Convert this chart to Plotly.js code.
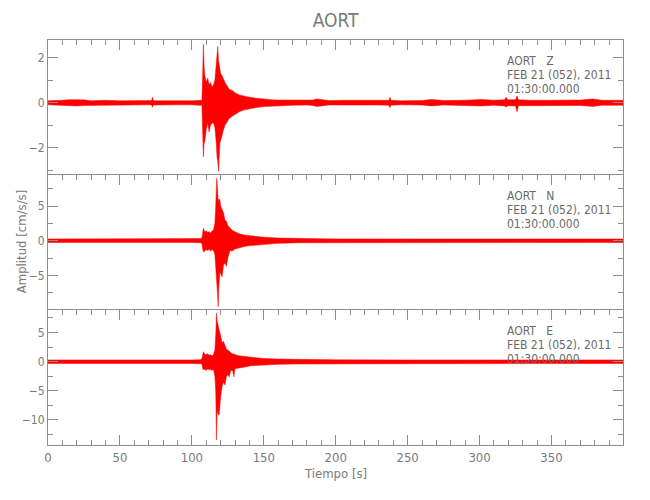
<!DOCTYPE html>
<html>
<head>
<meta charset="utf-8">
<script src="https://cdn.plot.ly/plotly-3.0.1.min.js"></script>
<style>
  html, body { margin: 0; padding: 0; background: #fff; }
  #chart { width: 650px; height: 500px; }
</style>
</head>
<body>
<div id="chart"></div>
<script>
// ---- Data (envelopes of the traces, cm/s/s) ----
const timeZ = [0, 5, 10, 15, 20, 25, 30, 40, 50, 60, 70, 72, 72.6, 73.2, 75, 80, 90, 100, 105, 107,
  107.5, 108, 108.5, 109, 110, 111, 112, 113, 114, 115, 116, 116.5, 117, 117.5, 118, 118.5, 119, 119.5, 120, 121,
  122, 123, 124, 125, 126, 128, 130, 133, 136, 140, 145, 150, 155, 160, 170, 180, 184, 187, 190, 195,
  210, 230, 237, 237.7, 238.4, 245, 260, 266.7, 275, 290, 301, 310, 317.5, 318.5, 319.5, 325, 326, 327, 335, 350,
  370, 378.7, 385, 399.7];
const upperZ = [0.09, 0.09, 0.11, 0.14, 0.15, 0.13, 0.09, 0.11, 0.09, 0.09, 0.09, 0.10, 0.25, 0.10, 0.09, 0.10, 0.09, 0.09, 0.11, 0.11,
  1.20, 2.60, 1.60, 1.20, 0.90, 1.10, 0.80, 0.90, 0.70, 0.80, 1.00, 1.50, 1.80, 2.10, 2.50, 1.90, 1.70, 1.40, 1.30, 1.20,
  1.00, 0.90, 0.80, 0.70, 0.60, 0.55, 0.45, 0.35, 0.30, 0.25, 0.20, 0.16, 0.14, 0.12, 0.11, 0.10, 0.12, 0.17, 0.15, 0.10,
  0.11, 0.10, 0.11, 0.25, 0.11, 0.09, 0.10, 0.15, 0.10, 0.11, 0.15, 0.11, 0.14, 0.25, 0.13, 0.14, 0.30, 0.13, 0.11, 0.11,
  0.12, 0.17, 0.11, 0.11];
const lowerZ = [-0.09, -0.09, -0.10, -0.13, -0.14, -0.12, -0.09, -0.10, -0.09, -0.09, -0.09, -0.10, -0.20, -0.10, -0.09, -0.10, -0.09, -0.09, -0.11, -0.11,
  -0.80, -2.40, -1.80, -1.70, -1.20, -0.90, -1.30, -1.00, -0.90, -0.90, -1.10, -1.40, -1.80, -2.40, -2.60, -3.05, -2.40, -1.80, -1.60, -1.40,
  -1.20, -1.00, -0.90, -0.80, -0.70, -0.60, -0.50, -0.40, -0.32, -0.27, -0.21, -0.17, -0.14, -0.13, -0.11, -0.10, -0.12, -0.16, -0.14, -0.10,
  -0.11, -0.10, -0.11, -0.22, -0.11, -0.09, -0.10, -0.14, -0.10, -0.11, -0.14, -0.11, -0.14, -0.20, -0.13, -0.14, -0.40, -0.13, -0.11, -0.11,
  -0.12, -0.16, -0.11, -0.11];

const timeN = [0, 20, 50, 80, 100, 106, 107, 107.5, 108, 109, 110, 111, 112, 113, 114, 115, 116, 116.5, 117, 117.3,
  117.8, 118.3, 118.8, 119.5, 120, 121, 122, 123, 124, 125, 126.5, 128, 130, 133, 137, 141, 145, 150, 160, 175,
  200, 250, 300, 350, 399.7];
const upperN = [0.25, 0.25, 0.28, 0.25, 0.25, 0.30, 0.40, 1.50, 1.80, 1.30, 1.40, 1.20, 1.30, 1.10, 1.40, 1.50, 2.50, 4.50, 7.00, 9.00,
  7.50, 5.50, 6.00, 5.90, 5.00, 4.50, 4.00, 3.00, 2.80, 2.20, 1.80, 1.50, 1.30, 1.00, 0.80, 0.70, 0.60, 0.50, 0.38, 0.30,
  0.26, 0.25, 0.25, 0.25, 0.25];
const lowerN = [-0.25, -0.25, -0.25, -0.25, -0.25, -0.30, -0.40, -1.20, -1.60, -1.50, -1.30, -1.40, -1.20, -1.50, -1.30, -1.40, -2.00, -3.50, -5.00, -6.00,
  -7.50, -9.50, -6.50, -4.50, -4.80, -5.20, -3.50, -3.20, -3.70, -2.50, -1.40, -1.50, -1.20, -1.00, -0.80, -0.70, -0.60, -0.50, -0.38, -0.30,
  -0.26, -0.25, -0.25, -0.25, -0.25];

const timeE = [0, 30, 60, 100, 106, 107, 107.5, 108, 109, 110, 111, 112, 113, 114, 115, 116, 116.6, 117.1, 117.6, 118.2,
  119, 120, 121, 122, 123, 124, 125, 126, 127, 128.5, 129.2, 130, 133, 137, 141, 150, 160, 175, 200, 250,
  300, 350, 399.7];
const upperE = [0.30, 0.34, 0.30, 0.30, 0.35, 0.50, 1.40, 1.70, 1.30, 1.20, 1.40, 1.10, 1.20, 1.00, 1.20, 2.00, 4.50, 8.30, 7.00, 6.00,
  5.40, 4.50, 3.20, 3.50, 2.80, 2.20, 2.00, 1.80, 1.50, 1.30, 1.40, 1.20, 1.00, 0.90, 0.70, 0.55, 0.45, 0.38, 0.32, 0.30,
  0.30, 0.30, 0.30];
const lowerE = [-0.30, -0.30, -0.30, -0.30, -0.35, -0.40, -1.10, -1.40, -1.30, -1.50, -1.20, -1.40, -1.30, -1.50, -1.30, -2.50, -5.00, -13.40, -8.00, -9.00,
  -9.10, -6.00, -4.30, -3.50, -4.00, -2.60, -2.20, -2.60, -1.50, -1.60, -2.60, -1.20, -1.00, -0.90, -0.70, -0.55, -0.45, -0.38, -0.32, -0.30,
  -0.30, -0.30, -0.30];

const stationName = 'AORT';
const components = ['Z', 'N', 'E'];
const dateLabel = 'FEB 21 (052), 2011';
const timeLabel = '01:30:00.000';
const xTitle = 'Tiempo [s]';
const yTitle = 'Amplitud [cm/s/s]';

// ---- Styling ----
const FONT = "'Liberation Sans Narrow', 'DejaVu Sans Condensed', 'Arial Narrow', sans-serif";
const AX = '#8e8e8e';
const TXT = '#7a7a7a';
const RED = '#ff0000';

function band(t, up, lo, xa, ya) {
  return {
    type: 'scatter', mode: 'lines',
    x: t.concat(t.slice().reverse()),
    y: up.concat(lo.slice().reverse()),
    fill: 'toself', fillcolor: RED,
    line: { color: RED, width: 0.5 },
    xaxis: xa, yaxis: ya, hoverinfo: 'skip', showlegend: false
  };
}

const data = [
  band(timeZ, upperZ, lowerZ, 'x', 'y'),
  band(timeN, upperN, lowerN, 'x2', 'y2'),
  band(timeE, upperE, lowerE, 'x3', 'y3')
];

function xAxis(anchor, side, labels) {
  return {
    anchor: anchor, side: side, range: [0, 399.7],
    showline: true, linecolor: AX, linewidth: 1,
    mirror: labels ? 'ticks' : false,
    ticks: 'inside', ticklen: 10, tickcolor: AX, tickwidth: 1,
    tick0: 0, dtick: 50,
    minor: { dtick: 10, ticks: 'inside', ticklen: 5, tickcolor: AX, tickwidth: 1 },
    showticklabels: labels,
    tickfont: { family: FONT, size: 13, color: TXT },
    showgrid: false, zeroline: false, fixedrange: true
  };
}
function yAxis(anchor, domain, range, dtick, minorDtick) {
  return {
    anchor: anchor, domain: domain, range: range,
    showline: true, linecolor: AX, linewidth: 1, mirror: 'ticks',
    ticks: 'inside', ticklen: 10, tickcolor: AX, tickwidth: 1,
    tick0: 0, dtick: dtick,
    minor: { dtick: minorDtick, ticks: 'inside', ticklen: 5, tickcolor: AX, tickwidth: 1 },
    tickfont: { family: FONT, size: 12, color: TXT },
    showgrid: false, zeroline: false, fixedrange: true
  };
}

const annFont = { family: FONT, size: 12, color: '#6a6a6a' };
const annotations = [];
const yrefs = ['y domain', 'y2 domain', 'y3 domain'];
const xrefs = ['x', 'x2', 'x3'];
components.forEach((c, i) => {
  const lines = [stationName + '\u00a0\u00a0\u00a0' + c, dateLabel, timeLabel];
  const ys = [0.842, 0.738, 0.638];
  lines.forEach((txt, j) => {
    annotations.push({
      text: txt, xref: xrefs[i], yref: yrefs[i], x: 318, y: ys[j],
      xanchor: 'left', yanchor: 'middle', showarrow: false, font: annFont
    });
  });
});
annotations.push({
  text: yTitle, xref: 'paper', yref: 'paper', x: -0.046, y: 0.502,
  textangle: -90, xanchor: 'center', yanchor: 'middle', showarrow: false,
  font: { family: FONT, size: 13, color: TXT }
});
annotations.push({
  text: xTitle, xref: 'paper', yref: 'paper', x: 0.5, y: -0.07,
  xanchor: 'center', yanchor: 'middle', showarrow: false,
  font: { family: FONT, size: 13, color: TXT }
});

const layout = {
  width: 650, height: 500,
  margin: { l: 48, r: 27, t: 40, b: 55, pad: 0 },
  paper_bgcolor: '#ffffff', plot_bgcolor: '#ffffff',
  title: {
    text: stationName, xref: 'paper', x: 0.5, y: 0.96, yanchor: 'middle',
    font: { family: FONT, size: 19, color: TXT }
  },
  xaxis: xAxis('y', 'top', false),
  xaxis2: xAxis('y2', 'top', false),
  xaxis3: xAxis('y3', 'bottom', true),
  yaxis: yAxis('x', [2 / 3, 1], [-3.21, 2.79], 2, 1),
  yaxis2: yAxis('x2', [1 / 3, 2 / 3], [-9.99, 9.47], 5, 2.5),
  yaxis3: yAxis('x3', [0, 1 / 3], [-14.29, 8.87], 5, 2.5),
  annotations: annotations,
  showlegend: false,
  hovermode: false
};

Plotly.newPlot('chart', data, layout, { displayModeBar: false, staticPlot: true });
</script>
</body>
</html>
